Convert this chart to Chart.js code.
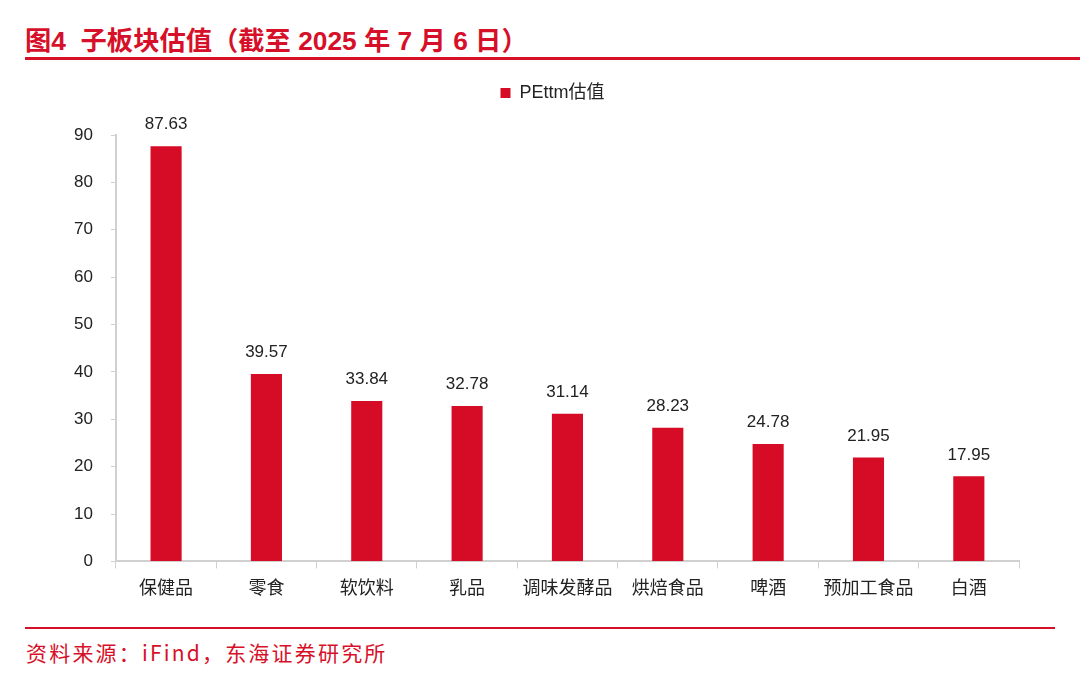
<!DOCTYPE html>
<html>
<head>
<meta charset="utf-8">
<script src="https://cdn.jsdelivr.net/npm/chart.js@4.4.3/dist/chart.umd.min.js"></script>
<style>
  html, body { margin: 0; padding: 0; background: #fff; }
  body { width: 1080px; height: 681px; position: relative; overflow: hidden;
         font-family: "Liberation Sans", "Noto Sans CJK SC", sans-serif; }
  #title { position: absolute; left: 25px; top: 19px; font-size: 26.3px; font-weight: bold;
           color: #d7102a; white-space: pre; }
  #topLine { position: absolute; left: 25px; right: 0; top: 57px; height: 3px; background: #d7102a; }
  #bottomLine { position: absolute; left: 25px; width: 1030px; top: 627px; height: 2px; background: #d7102a; }
  #source { position: absolute; left: 26px; top: 637px; font-size: 21px; letter-spacing: 2.2px; color: #d7102a;
            font-family: "Noto Sans CJK SC", sans-serif; }
  #chart { position: absolute; left: 0; top: 70px; }
</style>
</head>
<body>
<div id="title">图4  子板块估值（截至 2025 年 7 月 6 日）</div>
<div id="topLine"></div>
<canvas id="chart" width="1080" height="550"></canvas>
<div id="bottomLine"></div>
<div id="source">资料来源：iFind，东海证券研究所</div>
<script>
// 子板块 PEttm 估值
const categories = ["保健品", "零食", "软饮料", "乳品", "调味发酵品", "烘焙食品", "啤酒", "预加工食品", "白酒"];
const peValues = [87.63, 39.57, 33.84, 32.78, 31.14, 28.23, 24.78, 21.95, 17.95];
const seriesName = "PEttm估值";

const RED = "#d60b25";
const FONT = "'Liberation Sans', 'Noto Sans CJK SC', sans-serif";

// value labels above each bar
const valueLabelsPlugin = {
    id: "valueLabels",
    afterDatasetsDraw(chart) {
        const ctx = chart.ctx;
        const meta = chart.getDatasetMeta(0);
        ctx.save();
        ctx.fillStyle = "#222";
        ctx.font = "17px " + FONT;
        ctx.textAlign = "center";
        ctx.textBaseline = "bottom";
        meta.data.forEach((bar, i) => {
            ctx.fillText(peValues[i].toFixed(2), bar.x, bar.y - 13);
        });
        ctx.restore();
    }
};

// extra room between legend and plot, legend nudged right
const legendGapPlugin = {
    id: "legendGap",
    beforeInit(chart) {
        const fit = chart.legend.fit;
        chart.legend.fit = function () {
            fit.bind(chart.legend)();
            this.height += 23;
        };
    },
    afterLayout(chart) {
        chart.legend.left += 15;
        chart.legend.right += 15;
    }
};

new Chart(document.getElementById("chart"), {
    type: "bar",
    data: {
        labels: categories,
        datasets: [{
            label: seriesName,
            data: peValues,
            backgroundColor: RED,
            barPercentage: 0.31,
            categoryPercentage: 1
        }]
    },
    options: {
        responsive: false,
        animation: false,
        layout: { padding: { left: 56, right: 61, top: 4, bottom: 10 } },
        plugins: {
            legend: {
                position: "top",
                labels: {
                    boxWidth: 10,
                    boxHeight: 10,
                    color: "#222",
                    font: { family: FONT, size: 18 },
                    padding: 10
                }
            },
            tooltip: { enabled: false }
        },
        scales: {
            x: {
                grid: { drawOnChartArea: false, drawTicks: true, tickLength: 7, color: "#d0d0d0", offset: true },
                border: { color: "#d0d0d0", width: 2 },
                ticks: { color: "#222", font: { family: FONT, size: 18 }, padding: 10, maxRotation: 0, autoSkip: false }
            },
            y: {
                min: 0,
                max: 90,
                grid: { drawOnChartArea: false, drawTicks: true, tickLength: 5, color: "#d0d0d0" },
                border: { color: "#d0d0d0", width: 2 },
                ticks: { stepSize: 10, color: "#222", font: { family: FONT, size: 17 }, padding: 18 }
            }
        }
    },
    plugins: [valueLabelsPlugin, legendGapPlugin]
});
</script>
</body>
</html>
